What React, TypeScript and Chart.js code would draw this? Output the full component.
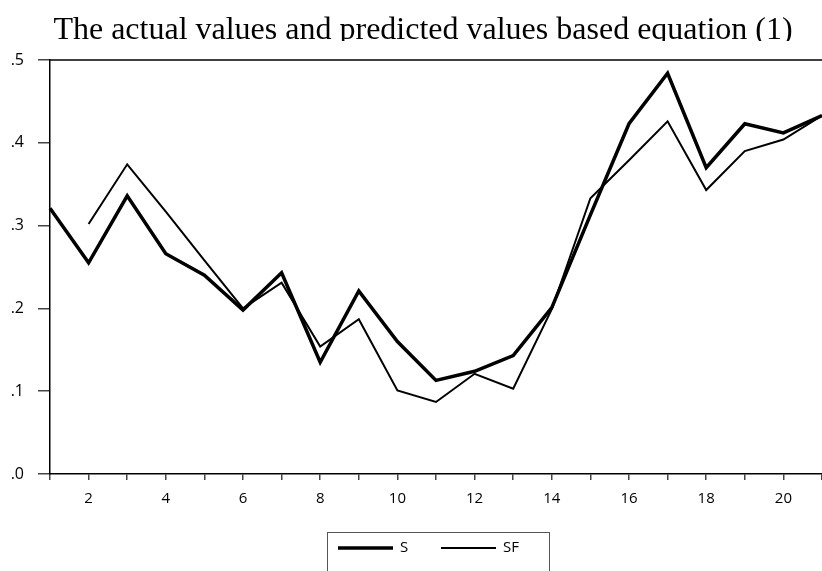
import React, { useEffect, useRef } from 'react';
import { Chart, registerables } from 'chart.js';

Chart.register(...registerables);

const categories = ['1', '2', '3', '4', '5', '6', '7', '8', '9', '10', '11', '12', '13', '14', '15', '16', '17', '18', '19', '20', '21'];
const sValues = [0.321, 0.255, 0.336, 0.266, 0.240, 0.198, 0.243, 0.135, 0.221, 0.160, 0.113, 0.124, 0.143, 0.201, 0.313, 0.423, 0.484, 0.370, 0.423, 0.412, 0.433];
const sfValues = [null, 0.302, 0.374, 0.317, 0.258, 0.200, 0.231, 0.154, 0.187, 0.101, 0.087, 0.121, 0.103, 0.199, 0.333, 0.379, 0.426, 0.343, 0.390, 0.404, 0.433];
const xTickLabels = ['2', '4', '6', '8', '10', '12', '14', '16', '18', '20'];
const yTickLabels = ['.0', '.1', '.2', '.3', '.4', '.5'];
const seriesLabels = ['S', 'SF'];
const titleText = 'The actual values and predicted values based equation (1)';

const decorPlugin = {
  id: 'decor',
  afterDraw(chart: any) {
    const { ctx, chartArea } = chart;
    ctx.save();
    // top frame line
    ctx.strokeStyle = '#000';
    ctx.lineWidth = 1.5;
    ctx.beginPath();
    ctx.moveTo(chartArea.left, chartArea.top);
    ctx.lineTo(chartArea.right, chartArea.top);
    ctx.stroke();
    // title (clipped like the reference)
    ctx.save();
    ctx.beginPath();
    ctx.rect(0, 0, chart.width, 41);
    ctx.clip();
    ctx.fillStyle = '#000';
    ctx.font = '32px "Liberation Serif", "Times New Roman", serif';
    ctx.textAlign = 'center';
    ctx.textBaseline = 'alphabetic';
    ctx.fillText(titleText, 423, 39);
    ctx.restore();
    // legend box
    ctx.strokeStyle = '#555';
    ctx.lineWidth = 1;
    ctx.strokeRect(327.5, 532.5, 222, 60);
    const items = chart.data.datasets;
    const starts = [338, 441];
    ctx.font = '15px "Open Sans", sans-serif';
    ctx.textAlign = 'left';
    ctx.textBaseline = 'middle';
    items.forEach((ds: any, i: number) => {
      ctx.strokeStyle = '#000';
      ctx.lineWidth = ds.borderWidth;
      ctx.beginPath();
      ctx.moveTo(starts[i], 548);
      ctx.lineTo(starts[i] + 55, 548);
      ctx.stroke();
      ctx.fillStyle = '#000';
      ctx.fillText(ds.label, starts[i] + 62, 548);
    });
    ctx.restore();
  },
};

export default function App() {
  const ref = useRef<HTMLCanvasElement>(null);
  useEffect(() => {
    if (!ref.current) return;
    const chart = new Chart(ref.current, {
      type: 'line',
      data: {
        labels: categories,
        datasets: [
          { label: seriesLabels[0], data: sValues, borderColor: '#000', borderWidth: 3.5, pointRadius: 0, tension: 0, fill: false },
          { label: seriesLabels[1], data: sfValues, borderColor: '#000', borderWidth: 2, pointRadius: 0, tension: 0, fill: false },
        ],
      },
      options: {
        responsive: false,
        animation: false,
        layout: { padding: { top: 60, left: 0, right: 0, bottom: 0 } },
        plugins: { legend: { display: false }, title: { display: false }, tooltip: { enabled: false } },
        scales: {
          x: {
            offset: false,
            grid: { drawOnChartArea: false, drawTicks: true, tickLength: 6, color: '#444', lineWidth: 1.5 },
            border: { display: true, color: '#000', width: 1.5 },
            ticks: {
              autoSkip: false,
              maxRotation: 0,
              padding: 10,
              color: '#000',
              font: { family: '"Open Sans", sans-serif', size: 15 },
              callback: (v: any, i: number) => (xTickLabels.includes(categories[i]) ? categories[i] : ''),
            },
            afterFit: (scale: any) => { scale.height = 97; scale.paddingRight = 0; scale.paddingLeft = 0; },
          },
          y: {
            min: 0,
            max: 0.5,
            grid: { drawOnChartArea: false, drawTicks: true, tickLength: 12, color: '#444', lineWidth: 1.5 },
            border: { display: true, color: '#000', width: 1.5 },
            ticks: {
              stepSize: 0.1,
              padding: 14,
              color: '#000',
              font: { family: '"Open Sans", sans-serif', size: 16 },
              callback: (v: any, i: number) => yTickLabels[i],
            },
            afterFit: (scale: any) => { scale.width = 50; scale.paddingTop = 0; scale.paddingBottom = 0; },
          },
        },
      },
      plugins: [decorPlugin],
    });
    return () => chart.destroy();
  }, []);
  return (
    <div style={{ position: 'absolute', left: 0, top: 0, width: 822, height: 571, background: '#fff' }}>
      <canvas ref={ref} width={822} height={571} style={{ display: 'block' }} />
    </div>
  );
}
